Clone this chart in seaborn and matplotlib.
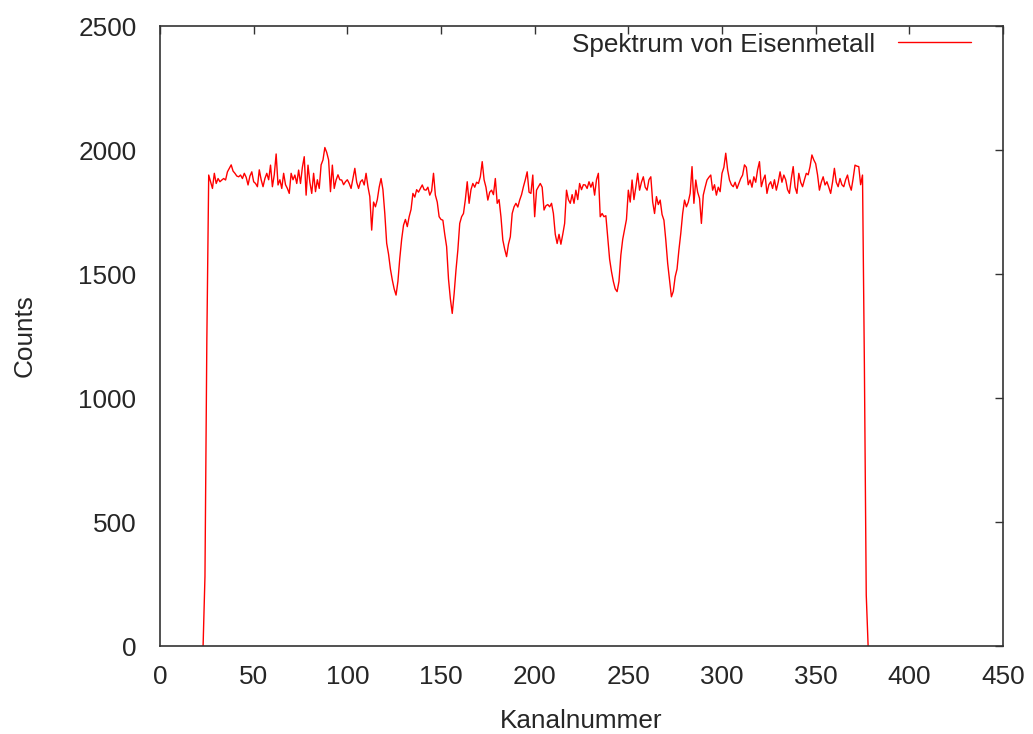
import matplotlib
matplotlib.use("Agg")
import matplotlib.pyplot as plt
import seaborn as sns
import numpy as np
import pandas as pd

# ---- data ----
first_channel = 23
counts = [
    0, 280, 1231, 1899, 1872, 1845, 1906, 1865, 1885, 1872,
    1879, 1885, 1879, 1912, 1926, 1940, 1915, 1906, 1895, 1892,
    1899, 1885, 1906, 1890, 1859, 1895, 1912, 1872, 1865, 1852,
    1920, 1880, 1852, 1885, 1906, 1880, 1939, 1852, 1900, 1984,
    1859, 1880, 1845, 1906, 1860, 1845, 1825, 1906, 1880, 1899,
    1865, 1919, 1865, 1930, 1973, 1818, 1939, 1870, 1825, 1906,
    1832, 1880, 1845, 1940, 1960, 2010, 1990, 1960, 1832, 1939,
    1845, 1879, 1900, 1880, 1879, 1860, 1872, 1880, 1865, 1845,
    1885, 1926, 1870, 1845, 1872, 1880, 1859, 1906, 1852, 1812,
    1677, 1790, 1771, 1800, 1850, 1885, 1840, 1744, 1624, 1580,
    1520, 1476, 1440, 1415, 1470, 1563, 1640, 1697, 1720, 1691,
    1731, 1760, 1825, 1810, 1840, 1830, 1845, 1859, 1840, 1838,
    1850, 1818, 1835, 1906, 1818, 1790, 1731, 1720, 1717, 1660,
    1610, 1480, 1400, 1341, 1420, 1516, 1597, 1704, 1731, 1744,
    1800, 1872, 1785, 1840, 1865, 1850, 1870, 1865, 1892, 1953,
    1880, 1850, 1798, 1830, 1838, 1820, 1885, 1785, 1800, 1731,
    1637, 1600, 1570, 1620, 1650, 1744, 1771, 1785, 1770, 1798,
    1820, 1852, 1880, 1912, 1830, 1825, 1899, 1731, 1838, 1852,
    1865, 1850, 1758, 1775, 1780, 1771, 1785, 1744, 1660, 1623,
    1660, 1620, 1660, 1704, 1838, 1800, 1785, 1820, 1785, 1838,
    1800, 1865, 1840, 1860, 1859, 1845, 1872, 1850, 1870, 1818,
    1880, 1906, 1731, 1744, 1731, 1735, 1650, 1560, 1510, 1470,
    1440, 1429, 1470, 1576, 1640, 1680, 1720, 1838, 1790, 1879,
    1800, 1850, 1906, 1838, 1870, 1892, 1850, 1838, 1880, 1892,
    1790, 1744, 1812, 1780, 1798, 1740, 1717, 1637, 1543, 1476,
    1408, 1430, 1489, 1520, 1597, 1664, 1744, 1798, 1771, 1790,
    1825, 1933, 1785, 1879, 1830, 1805, 1704, 1818, 1850, 1879,
    1890, 1899, 1838, 1860, 1818, 1850, 1832, 1906, 1930, 1987,
    1920, 1879, 1860, 1852, 1870, 1845, 1865, 1885, 1899, 1940,
    1930, 1860, 1879, 1850, 1892, 1870, 1920, 1953, 1852, 1880,
    1899, 1825, 1860, 1872, 1845, 1880, 1838, 1870, 1912, 1870,
    1899, 1880, 1840, 1825, 1885, 1933, 1850, 1825, 1906, 1870,
    1852, 1880, 1906, 1900, 1933, 1980, 1960, 1945, 1900, 1838,
    1870, 1892, 1859, 1872, 1850, 1825, 1870, 1926, 1870, 1852,
    1885, 1860, 1852, 1880, 1899, 1860, 1838, 1885, 1939, 1935,
    1933, 1860, 1899, 1137, 206, 0,
]
channels = list(range(first_channel, first_channel + len(counts)))
series_label = "Spektrum von Eisenmetall"
x_label = "Kanalnummer"
y_label = "Counts"
x_ticks = [0, 50, 100, 150, 200, 250, 300, 350, 400, 450]
y_ticks = [0, 500, 1000, 1500, 2000, 2500]

df = pd.DataFrame({"Kanal": channels, "Counts": counts})

sns.set_style("white")
plt.rcParams["font.family"] = ["Liberation Sans", "DejaVu Sans"]

fig = plt.figure(figsize=(10.33, 7.34), dpi=100)
ax = fig.add_axes([160 / 1033, 1 - 646 / 734, 843 / 1033, 620 / 734])

sns.lineplot(data=df, x="Kanal", y="Counts", ax=ax, color="#ff0000",
             linewidth=1.0, estimator=None, label=series_label)

ax.set_xlim(0, 450)
ax.set_ylim(0, 2500)
ax.set_xticks(x_ticks)
ax.set_yticks(y_ticks)

text_col = "#262626"
fs = 18.8
ax.tick_params(direction="in", length=6, width=1.0, colors="#333333",
               top=True, right=True, labelsize=fs, labelcolor=text_col)
ax.tick_params(axis="x", pad=14)
ax.tick_params(axis="y", pad=17)
for s in ax.spines.values():
    s.set_color("#333333")
    s.set_linewidth(1.2)
    s.set_visible(True)

ax.set_xlabel(x_label, fontsize=fs, color=text_col, labelpad=14)
ax.set_ylabel(y_label, fontsize=fs, color=text_col, labelpad=30)

leg = ax.legend(loc="center right", bbox_to_anchor=(0.975, 0.970),
                frameon=False, markerfirst=False, fontsize=fs,
                handlelength=2.8, handletextpad=0.9, borderaxespad=0)
for t in leg.get_texts():
    t.set_color(text_col)

fig.savefig("out.png", dpi=100)
